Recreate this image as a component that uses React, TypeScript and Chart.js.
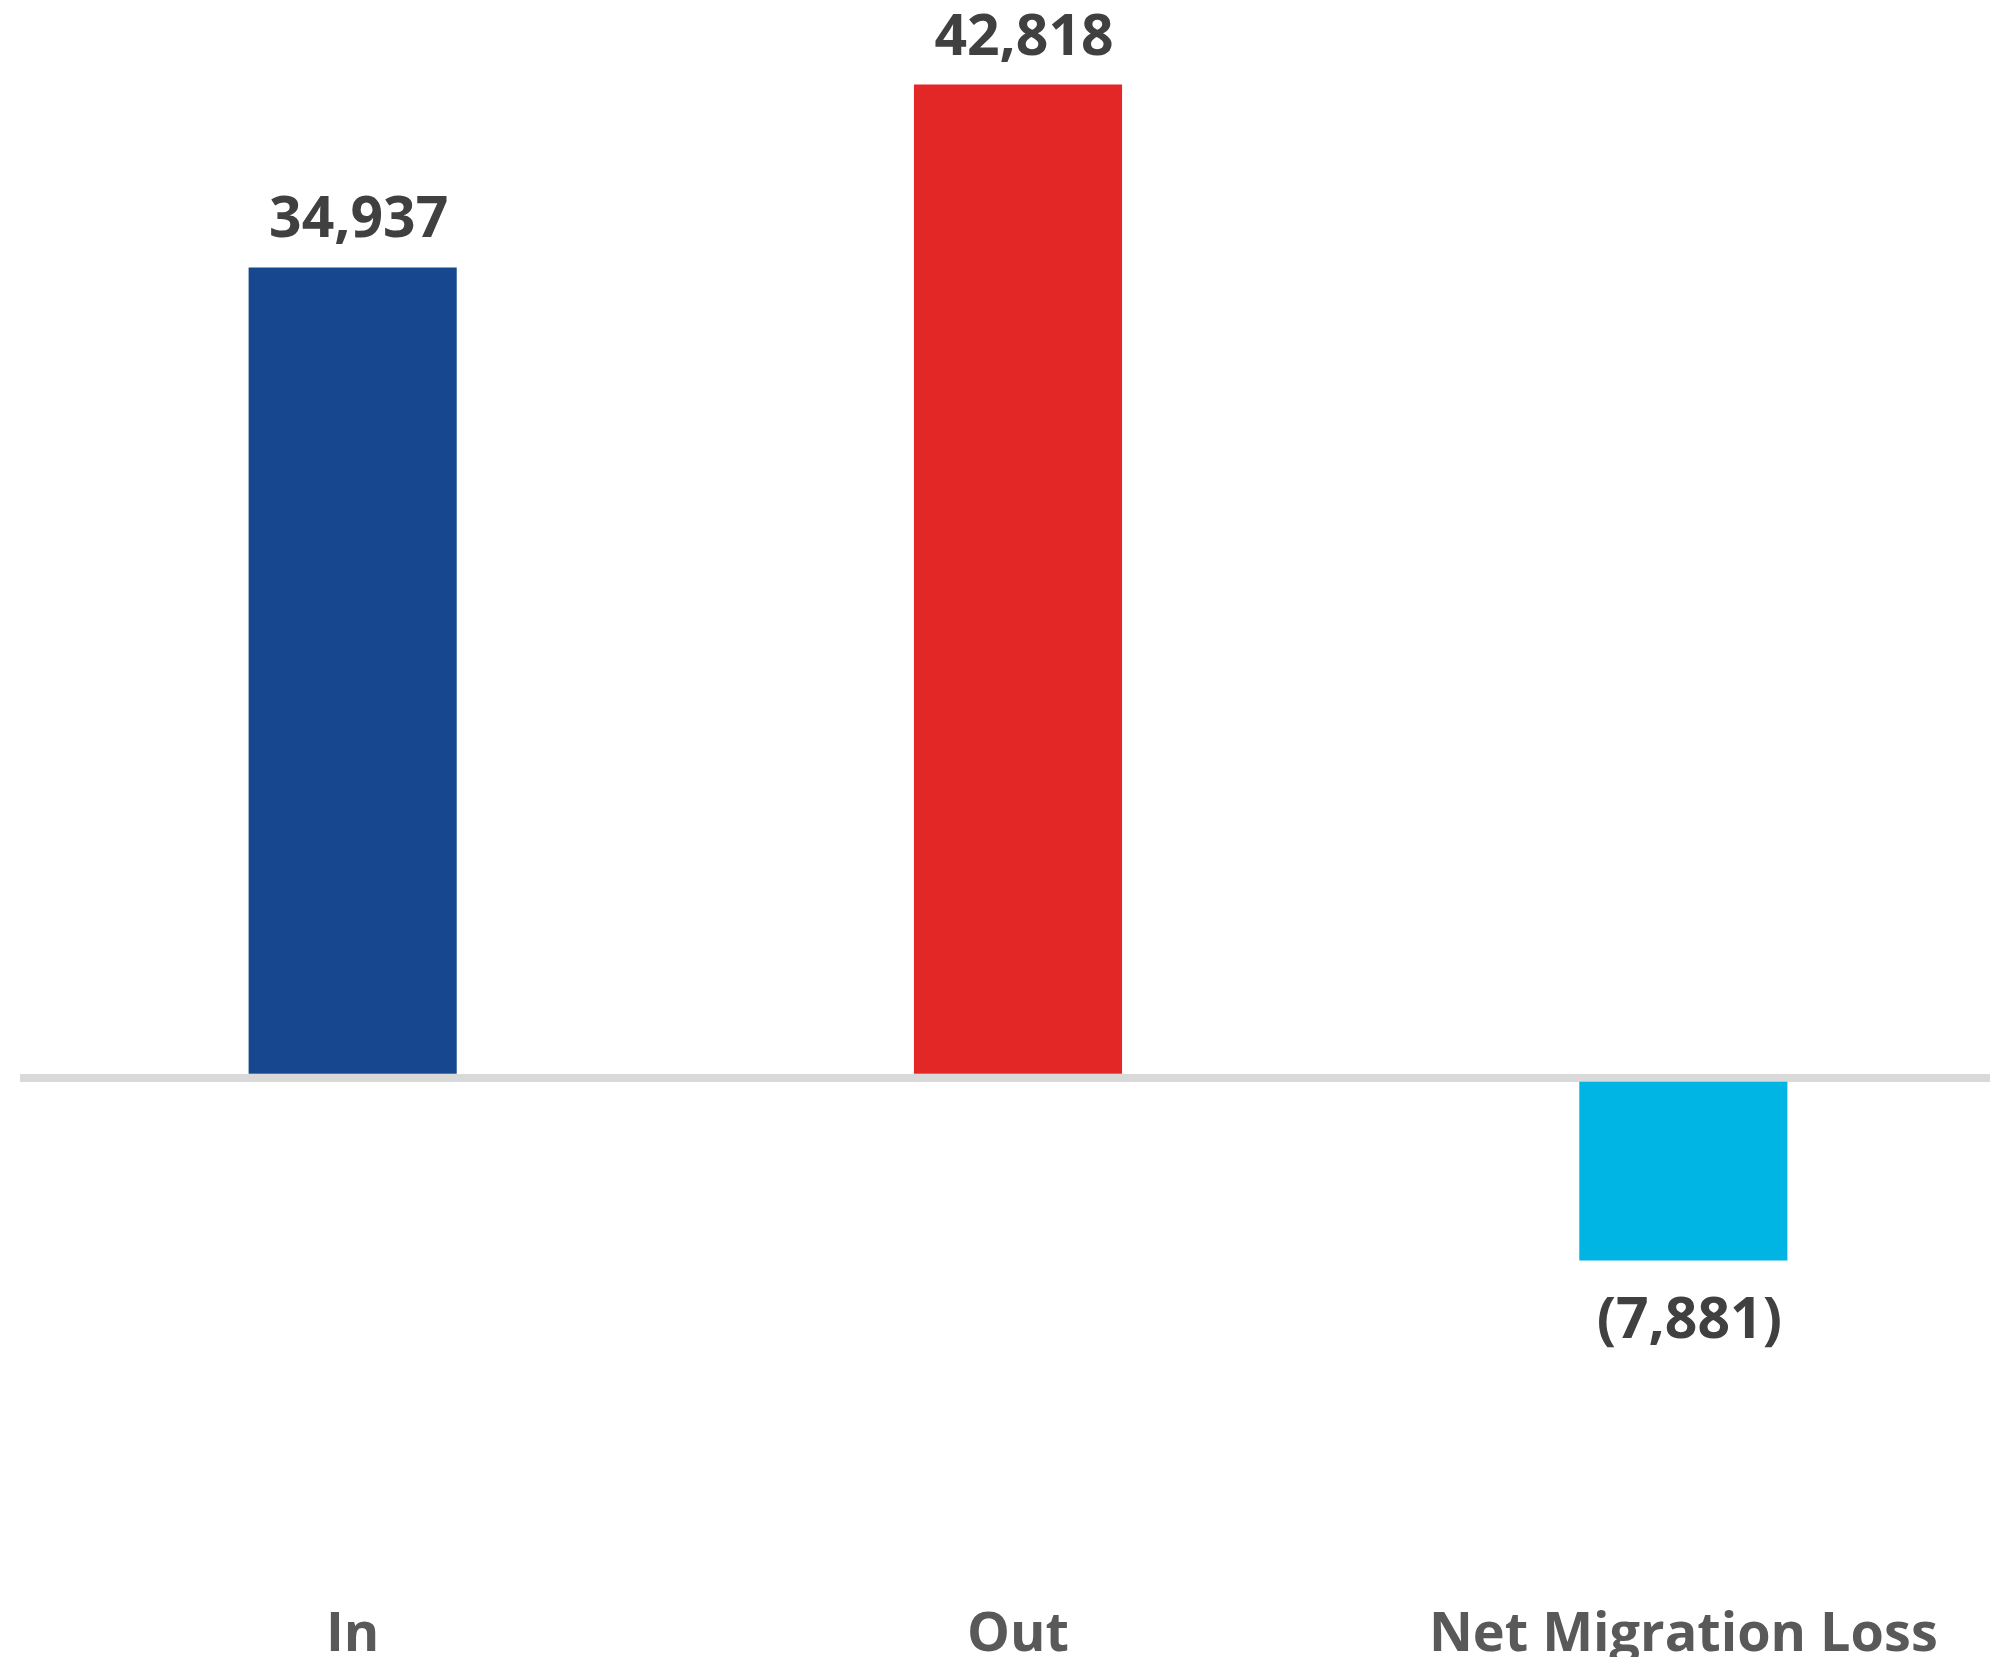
import React, { useEffect, useRef } from "react";
import { Chart, registerables } from "chart.js";

Chart.register(...registerables);

const categories = ["In", "Out", "Net Migration Loss"];
const values = [34937, 42818, -7881];
const barColors = ["#17478E", "#E32727", "#00B5E4"];
const yMin = -12000;
const yMax = 45000;

function formatValue(v: number): string {
  const s = Math.abs(v).toLocaleString("en-US");
  return v < 0 ? `(${s})` : s;
}

const valueLabelPlugin = {
  id: "valueLabels",
  afterDatasetsDraw(chart: any) {
    const ctx = chart.ctx;
    const meta = chart.getDatasetMeta(0);
    ctx.save();
    ctx.font = "bold 57px 'Open Sans'";
    ctx.fillStyle = "#404040";
    ctx.textAlign = "center";
    ctx.textBaseline = "alphabetic";
    meta.data.forEach((bar: any, i: number) => {
      const v = values[i];
      const y = v >= 0 ? bar.y - 30 : bar.y + 78;
      ctx.fillText(formatValue(v), bar.x + 6, y);
    });
    ctx.restore();
  },
};

export default function App() {
  const canvasRef = useRef<HTMLCanvasElement | null>(null);

  useEffect(() => {
    if (!canvasRef.current) return;
    const chart = new Chart(canvasRef.current, {
      type: "bar",
      data: {
        labels: categories,
        datasets: [
          {
            data: values,
            backgroundColor: barColors,
            borderWidth: 0,
            barPercentage: 1,
            categoryPercentage: 0.3128,
          },
        ],
      },
      options: {
        animation: false,
        responsive: false,
        maintainAspectRatio: false,
        devicePixelRatio: 1,
        layout: { padding: { left: 20, right: 0, top: 34, bottom: 0 } },
        plugins: {
          legend: { display: false },
          tooltip: { enabled: false },
        },
        scales: {
          x: {
            grid: { display: false },
            border: { display: false },
            ticks: {
              padding: 239,
              color: "#595959",
              font: { family: "'Open Sans'", size: 54, weight: "bold" },
              maxRotation: 0,
              autoSkip: false,
            },
            afterFit: (scale: any) => {
              scale.height = 301;
              scale.paddingLeft = 0;
              scale.paddingRight = 0;
            },
          },
          y: {
            min: yMin,
            max: yMax,
            z: 1,
            border: { display: false },
            ticks: { display: false, stepSize: 1000 },
            grid: {
              drawTicks: false,
              color: (ctx: any) => (ctx.tick && ctx.tick.value === 0 ? "#D9D9D9" : "rgba(0,0,0,0)"),
              lineWidth: (ctx: any) => (ctx.tick && ctx.tick.value === 0 ? 8 : 0),
            },
            afterFit: (scale: any) => {
              scale.width = 0;
              scale.paddingTop = 0;
              scale.paddingBottom = 0;
            },
          },
        },
      },
      plugins: [valueLabelPlugin],
    });
    return () => chart.destroy();
  }, []);

  return (
    <div
      style={{
        position: "fixed",
        left: 0,
        top: 0,
        width: 1990,
        height: 1657,
        overflow: "hidden",
        background: "#FFFFFF",
      }}
    >
      <canvas
        ref={canvasRef}
        width={2016}
        height={1657}
        style={{ display: "block", width: 2016, height: 1657 }}
      />
    </div>
  );
}
